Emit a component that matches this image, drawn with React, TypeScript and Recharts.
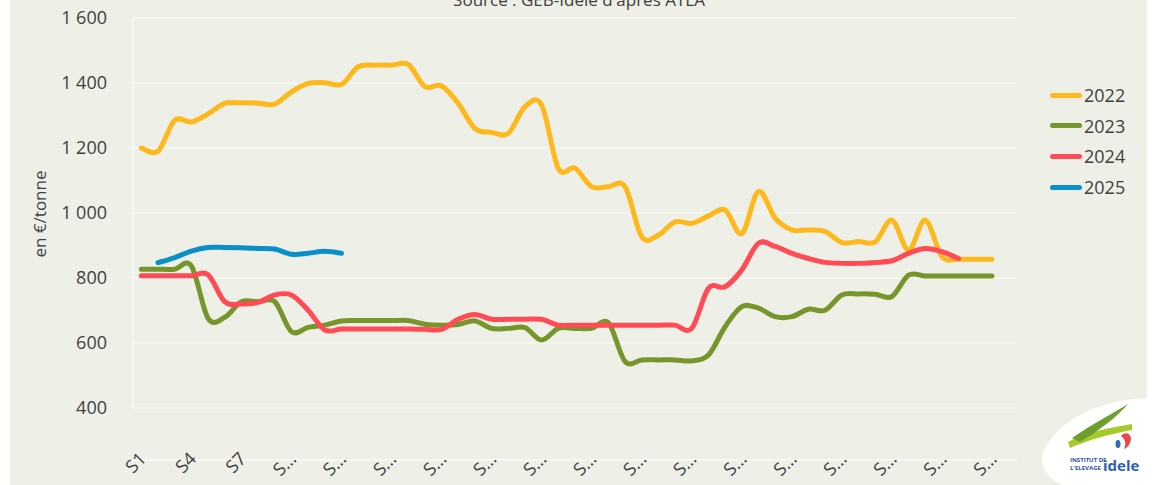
import { LineChart, Line, XAxis, YAxis, CartesianGrid } from "recharts";

const weeks = Array.from({ length: 53 }, (_, i) => `S${i + 1}`);

const y2022 = [
  1200, 1190, 1285, 1280, 1305, 1337, 1339, 1338, 1335, 1373, 1399, 1401, 1396,
  1450, 1455, 1455, 1457, 1389, 1391, 1337, 1260, 1248, 1245, 1327, 1332, 1137,
  1138, 1081, 1081, 1081, 927, 932, 973, 968, 991, 1009, 937, 1066, 984, 948,
  948, 943, 909, 912, 911, 978, 886, 978, 866, 858, 858, 858, null,
];
const y2023 = [
  827, 827, 827, 837, 676, 679, 727, 727, 727, 635, 648, 655, 668, 669, 669,
  669, 669, 658, 655, 657, 668, 645, 645, 647, 609, 645, 645, 645, 662, 543,
  548, 548, 548, 545, 563, 650, 712, 707, 681, 681, 704, 701, 748, 751, 750,
  743, 809, 806, 806, 806, 806, 806, null,
];
const y2024 = [
  807, 807, 807, 807, 810, 727, 720, 725, 748, 748, 701, 640, 643, 643, 643,
  643, 643, 642, 642, 673, 688, 673, 673, 673, 673, 655, 655, 655, 655, 655,
  655, 655, 655, 645, 768, 773, 825, 907, 897, 876, 860, 848, 845, 845, 848,
  853, 876, 891, 881, 860, null, null, null,
];
const y2025 = [
  null, 847, 863, 883, 894, 894, 893, 891, 889, 873, 876, 882, 876,
];

const yTicks = [400, 600, 800, 1000, 1200, 1400, 1600];
const edgeTicks = Array.from({ length: 54 }, (_, i) => i);

const series = [
  { key: "2022", color: "#FFB81C" },
  { key: "2023", color: "#76962B" },
  { key: "2024", color: "#FF4B55" },
  { key: "2025", color: "#0A8FC8" },
];

const data = weeks.map((w, i) => ({
  week: w,
  "2022": y2022[i] ?? null,
  "2023": y2023[i] ?? null,
  "2024": y2024[i] ?? null,
  "2025": y2025[i] ?? null,
}));

const FONT = "'Open Sans', 'Noto Sans', sans-serif";
const TEXT = "#404040";

// Excel-style smoothed line (uniform Catmull-Rom through the points)
function smoothCurve(context: any) {
  let pts: number[][] = [];
  return {
    areaStart() {},
    areaEnd() {},
    lineStart() {
      pts = [];
    },
    point(x: number, y: number) {
      pts.push([+x, +y]);
    },
    lineEnd() {
      const n = pts.length;
      if (!n) return;
      context.moveTo(pts[0][0], pts[0][1]);
      if (n === 1) {
        context.lineTo(pts[0][0], pts[0][1]);
        return;
      }
      for (let i = 0; i < n - 1; i++) {
        const p0 = pts[i - 1] || pts[i];
        const p1 = pts[i];
        const p2 = pts[i + 1];
        const p3 = pts[i + 2] || p2;
        context.bezierCurveTo(
          p1[0] + (p2[0] - p0[0]) / 6,
          p1[1] + (p2[1] - p0[1]) / 6,
          p2[0] - (p3[0] - p1[0]) / 6,
          p2[1] - (p3[1] - p1[1]) / 6,
          p2[0],
          p2[1]
        );
      }
    },
  };
}

const fmt = (v: number) =>
  v >= 1000 ? `${Math.floor(v / 1000)} ${String(v % 1000).padStart(3, "0")}` : `${v}`;

const WeekTick = ({ x, y, payload }: any) => {
  const label = payload.value.length > 2 ? "S…" : payload.value;
  const ax = x + 6;
  const ay = y + 44;
  return (
    <text
      x={ax}
      y={ay}
      transform={`rotate(-45, ${ax}, ${ay})`}
      textAnchor="end"
      fontSize={18}
      fill={TEXT}
      fontFamily={FONT}
    >
      {label}
    </text>
  );
};

export default function App() {
  return (
    <div
      style={{
        position: "absolute",
        left: 0,
        top: 0,
        width: 1156,
        height: 485,
        background: "#ffffff",
        overflow: "hidden",
        fontFamily: FONT,
      }}
    >
      <div
        style={{
          position: "absolute",
          left: 10,
          top: 0,
          width: 1137,
          height: 485,
          background: "#EEF0E7",
        }}
      />
      <div style={{ position: "absolute", left: 0, top: 0 }}>
        <LineChart
          width={1156}
          height={485}
          data={data}
          margin={{ top: 18, right: 139, left: 0, bottom: 17 }}
        >
          <CartesianGrid
            vertical={false}
            stroke="#ffffff"
            strokeOpacity={0.8}
          />
          <XAxis
            xAxisId="edges"
            type="number"
            domain={[0, 53]}
            ticks={edgeTicks}
            allowDataOverflow
            height={8}
            tick={false}
            tickSize={5}
            axisLine={{ stroke: "#ffffff" }}
            tickLine={{ stroke: "#ffffff" }}
          />
          <XAxis
            dataKey="week"
            scale="band"
            interval={2}
            height={52}
            axisLine={false}
            tickLine={false}
            tick={<WeekTick />}
          />
          <YAxis
            domain={[400, 1600]}
            ticks={yTicks}
            width={133}
            tickFormatter={fmt}
            tickLine={false}
            axisLine={{ stroke: "#ffffff" }}
            tickMargin={20}
            tick={{ fontSize: 18, fill: TEXT, fontFamily: FONT }}
          />
          {series.map((s) => (
            <Line
              key={s.key}
              dataKey={s.key}
              type={smoothCurve as any}
              stroke={s.color}
              strokeWidth={5}
              strokeLinecap="round"
              dot={false}
              activeDot={false}
              isAnimationActive={false}
            />
          ))}
        </LineChart>
      </div>
      <svg
        width={1156}
        height={485}
        style={{ position: "absolute", left: 0, top: 0, pointerEvents: "none" }}
      >
        <text
          x={579}
          y={6}
          textAnchor="middle"
          fontSize={17}
          fill={TEXT}
          fontFamily={FONT}
        >
          Source : GEB-Idele d'après ATLA
        </text>
        <text
          x={46}
          y={214}
          transform="rotate(-90, 46, 214)"
          textAnchor="middle"
          fontSize={17}
          fill={TEXT}
          fontFamily={FONT}
        >
          en €/tonne
        </text>
        <path
          d="M1156,398 C1110,398 1062,414 1044,450 C1038,464 1046,478 1062,485 L1156,485 Z"
          fill="#ffffff"
        />
        <path d="M1068,442 C1085,432 1110,428 1132,424 L1132,430 C1110,434 1088,440 1070,448 Z" fill="#A8C92A" />
        <path d="M1072,438 C1092,424 1112,414 1128,404 C1118,416 1100,430 1080,442 Z" fill="#6E9E2E" />
        <path d="M1121,436 C1124,432 1130,432 1131,438 C1131,444 1127,448 1124,449 C1126,444 1126,440 1121,436 Z" fill="#E84A4A" />
        <ellipse cx={1118} cy={444} rx={2.5} ry={4} fill="#2E6BB8" />
        <text x={1070} y={462} fontSize={6} fill="#2E4E9A" fontFamily={FONT} fontWeight={700}>
          INSTITUT DE
        </text>
        <text x={1070} y={470} fontSize={6} fill="#2E4E9A" fontFamily={FONT} fontWeight={700}>
          L'ELEVAGE
        </text>
        <text x={1103} y={471} fontSize={15} fill="#2E5FB0" fontFamily={FONT} fontWeight={700}>
          idele
        </text>
      </svg>
      <div style={{ position: "absolute", left: 1050, top: 80 }}>
        {series.map((s) => (
          <div
            key={s.key}
            style={{ display: "flex", alignItems: "center", height: 30.6 }}
          >
            <div
              style={{
                width: 32,
                height: 5,
                borderRadius: 3,
                background: s.color,
                marginRight: 2,
              }}
            />
            <span style={{ fontSize: 18, color: TEXT, lineHeight: "20px" }}>
              {s.key}
            </span>
          </div>
        ))}
      </div>
    </div>
  );
}
